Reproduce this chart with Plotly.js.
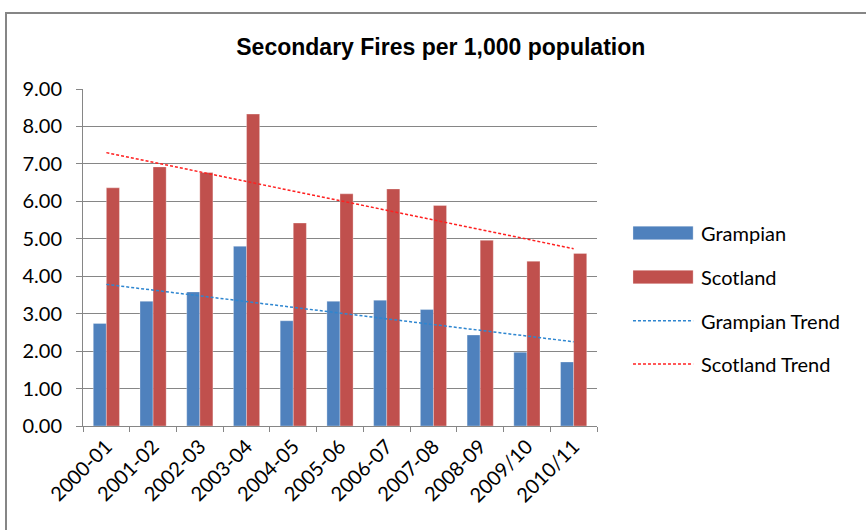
<!DOCTYPE html>
<html>
<head>
<meta charset="utf-8">
<script src="https://cdn.plot.ly/plotly-3.0.1.min.js"></script>
<style>html,body{margin:0;padding:0;background:#fff;}#chart{width:866px;height:530px;}</style>
</head>
<body>
<div id="chart"></div>
<script>
const years = ["2000-01","2001-02","2002-03","2003-04","2004-05","2005-06","2006-07","2007-08","2008-09","2009/10","2010/11"];
const grampian = [2.74, 3.33, 3.58, 4.80, 2.81, 3.33, 3.36, 3.11, 2.43, 1.97, 1.71];
const scotland = [6.36, 6.92, 6.77, 8.33, 5.42, 6.20, 6.33, 5.89, 4.96, 4.40, 4.61];
const seriesNames = ["Grampian", "Scotland", "Grampian Trend", "Scotland Trend"];
const chartTitle = "Secondary Fires per 1,000 population";

function linearTrend(vals) {
  const n = vals.length;
  const xs = vals.map((_, i) => i);
  const mx = xs.reduce((a, b) => a + b, 0) / n;
  const my = vals.reduce((a, b) => a + b, 0) / n;
  let sxy = 0, sxx = 0;
  for (let i = 0; i < n; i++) { sxy += (xs[i] - mx) * (vals[i] - my); sxx += (xs[i] - mx) ** 2; }
  const slope = sxy / sxx;
  return xs.map(x => my + slope * (x - mx));
}

const blue = "#4F81BD", red = "#C0504D";
const trendBlue = "#2E86D0", trendRed = "#FF2020";
const font = "Lato, 'Open Sans', sans-serif";

const traces = [
  {type: "bar", x: years, y: grampian, name: seriesNames[0], marker: {color: blue, line: {color: "rgba(255,255,255,0.6)", width: 0.5}}, showlegend: false},
  {type: "bar", x: years, y: scotland, name: seriesNames[1], marker: {color: red, line: {color: "rgba(255,255,255,0.6)", width: 0.5}}, showlegend: false},
  {type: "scatter", mode: "lines", x: years, y: linearTrend(grampian), name: seriesNames[2], line: {color: trendBlue, width: 1.5, dash: "3px,2px"}, showlegend: false},
  {type: "scatter", mode: "lines", x: years, y: linearTrend(scotland), name: seriesNames[3], line: {color: trendRed, width: 1.5, dash: "3px,2px"}, showlegend: false}
];

// legend geometry in paper coordinates
const lx0 = 1.070, lx1 = 1.187, ltx = 1.198;
const ly = [0.573, 0.442, 0.312, 0.184];
const shapes = [
  {type: "rect", xref: "paper", yref: "paper", x0: -0.1498, x1: 1.6, y0: -0.5, y1: 1.2255, line: {color: "#868686", width: 2}, fillcolor: "rgba(0,0,0,0)", layer: "below"},
  {type: "rect", xref: "paper", yref: "paper", x0: lx0, x1: lx1, y0: ly[0] - 0.020, y1: ly[0] + 0.020, fillcolor: blue, line: {color: "rgba(255,255,255,0.6)", width: 0.5}},
  {type: "rect", xref: "paper", yref: "paper", x0: lx0, x1: lx1, y0: ly[1] - 0.020, y1: ly[1] + 0.020, fillcolor: red, line: {color: "rgba(255,255,255,0.6)", width: 0.5}},
  {type: "line", xref: "paper", yref: "paper", x0: lx0, x1: lx1, y0: ly[2], y1: ly[2], line: {color: trendBlue, width: 1.5, dash: "3px,2px"}},
  {type: "line", xref: "paper", yref: "paper", x0: lx0, x1: lx1, y0: ly[3], y1: ly[3], line: {color: trendRed, width: 1.5, dash: "3px,2px"}}
];
const annotations = seriesNames.map((n, i) => ({
  xref: "paper", yref: "paper", x: ltx, y: ly[i], xanchor: "left", yanchor: "middle",
  text: n, showarrow: false, font: {family: font, size: 20, color: "#000"}
}));

const layout = {
  width: 866, height: 530,
  margin: {l: 83, r: 269, t: 89, b: 104},
  paper_bgcolor: "#fff", plot_bgcolor: "#fff",
  title: {text: chartTitle, x: 0.509, xanchor: "center", y: 0.911, yanchor: "middle",
          font: {family: "'Liberation Sans', Arial, sans-serif", size: 23, color: "#000", weight: "bold"}},
  barmode: "group", bargap: 0.44, bargroupgap: 0,
  showlegend: false,
  xaxis: {type: "category", tickangle: -45, tickson: "boundaries", ticks: "outside", ticklen: 5, tickcolor: "#868686",
          showline: true, linecolor: "#868686", linewidth: 1, showgrid: false,
          tickfont: {family: font, size: 20, color: "#000"}, automargin: false},
  yaxis: {range: [0, 9], dtick: 1, tickformat: ".2f", ticks: "outside", ticklen: 6, tickcolor: "#868686",
          ticklabelstandoff: 10,
          showline: true, linecolor: "#868686", linewidth: 1, showgrid: true, gridcolor: "#868686", gridwidth: 1,
          zeroline: false, tickfont: {family: font, size: 20, color: "#000"}, automargin: false},
  shapes: shapes, annotations: annotations
};

Plotly.newPlot("chart", traces, layout, {staticPlot: true, displayModeBar: false});
</script>
</body>
</html>
